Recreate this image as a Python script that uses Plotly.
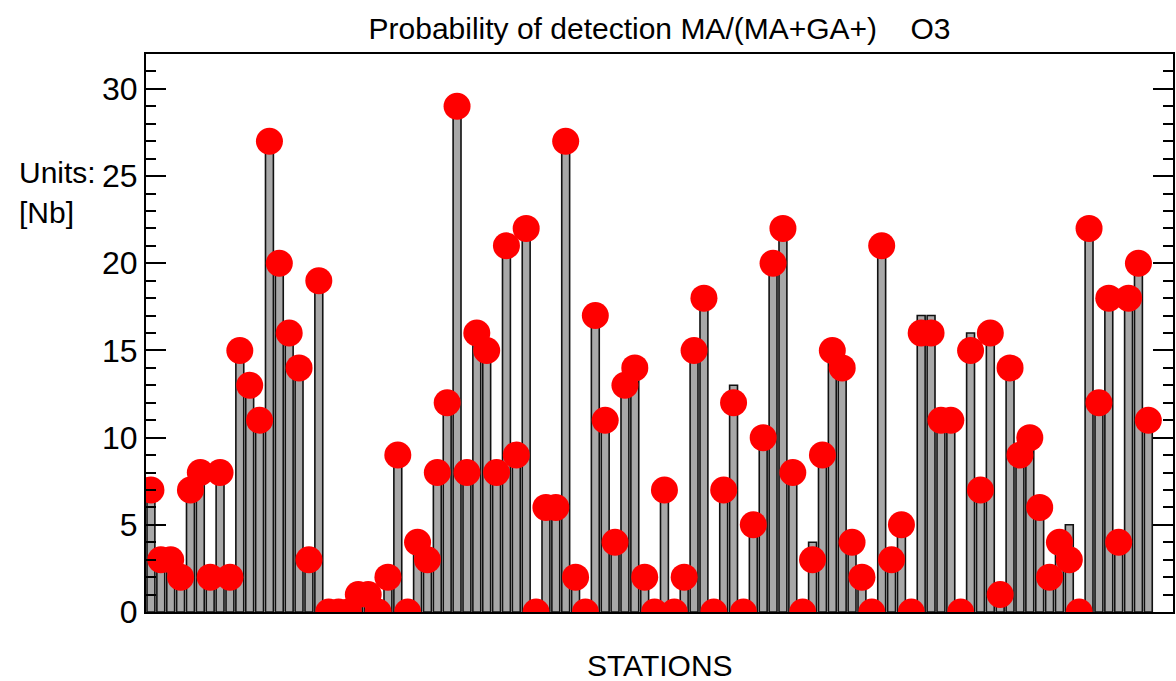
import plotly.graph_objects as go

# Detection counts per station (red dots) and bar heights
detections = [
    7, 3, 3, 2, 7, 8, 2, 8, 2, 15, 13, 11, 27, 20, 16, 14, 3, 19,
    0, 0, 0, 1, 1, 0, 2,
    9, 0, 4, 3, 8, 12, 29,
    8, 16, 15, 8, 21, 9, 22, 0, 6, 6, 27, 2, 0, 17, 11, 4, 13, 14, 2, 0, 7,
    0, 2, 15, 18, 0, 7, 12, 0, 5, 10, 20, 22, 8, 0, 3, 9, 15,
    14, 4, 2, 0, 21, 3, 5, 0, 16, 16, 11, 11, 0, 15, 7, 16, 1, 14, 9, 10,
    6, 2, 4, 3, 0, 22, 12, 18, 4, 18, 20, 11,
]
bar_totals = list(detections)
# stations whose bar exceeds the detection count
bar_overrides = {60: 13, 68: 4, 79: 17, 80: 17, 84: 16, 94: 5}
for st, v in bar_overrides.items():
    bar_totals[st - 1] = v

stations = list(range(1, len(detections) + 1))

y_ticks = [0, 5, 10, 15, 20, 25, 30]

FONT = "Liberation Sans, Arial, sans-serif"

fig = go.Figure()
fig.add_trace(go.Bar(
    x=stations, y=bar_totals, width=0.8,
    marker=dict(color="#a8a8a8", line=dict(color="#111111", width=1.6)),
    hoverinfo="skip", showlegend=False,
))
fig.add_trace(go.Scatter(
    x=stations, y=detections, mode="markers",
    marker=dict(color="#ff0000", size=27, line=dict(width=0)),
    showlegend=False,
))

fig.update_layout(
    width=1176, height=681,
    margin=dict(l=146, r=1, t=54, b=69),
    paper_bgcolor="white", plot_bgcolor="white",
    font=dict(family=FONT, color="black", size=30),
    bargap=0.2,
    title=dict(
        text="Probability of detection MA/(MA+GA+)\u00a0\u00a0\u00a0\u00a0O3",
        x=0.5, xref="paper", y=1 - 28 / 681, yref="container",
        xanchor="center", yanchor="middle",
        font=dict(family=FONT, size=30, color="black"),
    ),
    xaxis=dict(
        range=[0.5, 104.5], showticklabels=False, ticks="",
        showgrid=False, zeroline=False,
        showline=True, linecolor="black", linewidth=2, mirror=True,
    ),
    yaxis=dict(
        range=[0, 32], tickvals=y_ticks, ticks="inside", ticklen=20,
        tickwidth=2, tickcolor="black",
        minor=dict(dtick=1, ticks="inside", ticklen=10, tickwidth=2, tickcolor="black"),
        showgrid=False, zeroline=False,
        showline=True, linecolor="black", linewidth=2, mirror="ticks",
        tickfont=dict(family=FONT, size=32, color="black"),
    ),
    annotations=[
        dict(text="Units:", xref="paper", yref="paper",
             x=(17 - 146) / 1029, y=(612 - 172) / 558,
             xanchor="left", yanchor="middle", showarrow=False,
             font=dict(family=FONT, size=30)),
        dict(text="[Nb]", xref="paper", yref="paper",
             x=(17 - 146) / 1029, y=(612 - 212) / 558,
             xanchor="left", yanchor="middle", showarrow=False,
             font=dict(family=FONT, size=30)),
        dict(text="STATIONS", xref="paper", yref="paper",
             x=0.5, y=(612 - 665) / 558,
             xanchor="center", yanchor="middle", showarrow=False,
             font=dict(family=FONT, size=30)),
    ],
)

fig.write_html("out.html")
